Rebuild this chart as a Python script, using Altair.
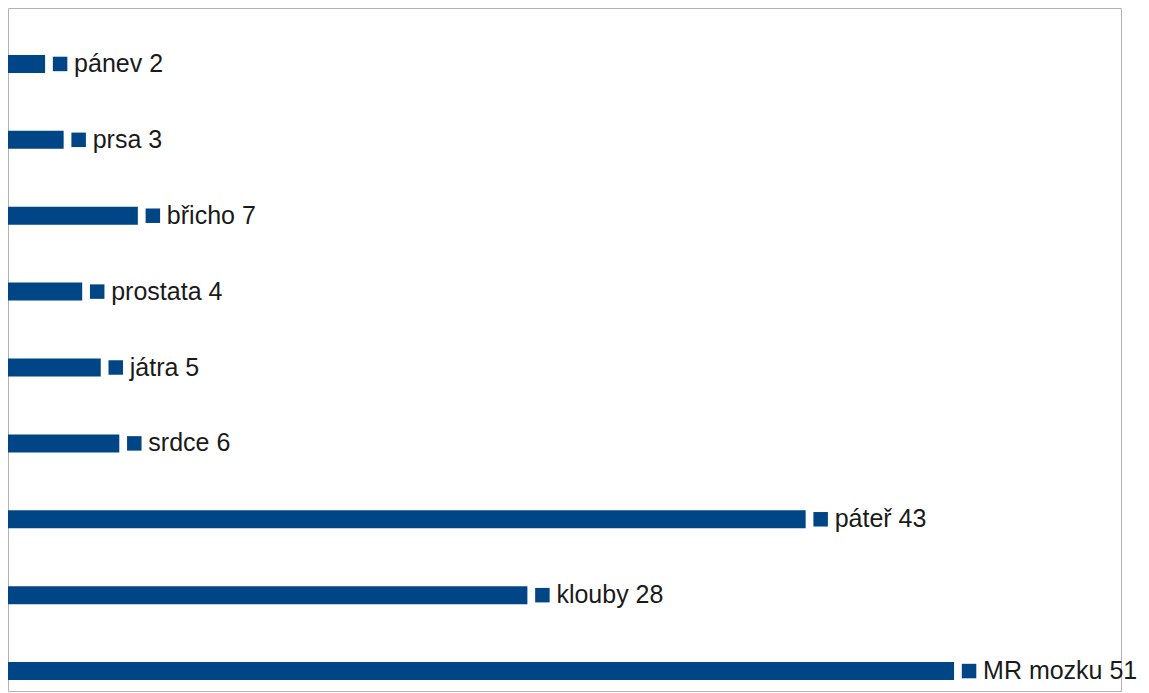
import altair as alt
import pandas as pd

categories = ["pánev", "prsa", "břicho", "prostata", "játra", "srdce", "páteř", "klouby", "MR mozku"]
values = [2, 3, 7, 4, 5, 6, 43, 28, 51]

df = pd.DataFrame({"cat": categories, "val": values})
df["label"] = df["cat"] + " " + df["val"].astype(str)

BLUE = "#004586"

x = alt.X("val:Q", scale=alt.Scale(domain=[0, 60], nice=False), axis=None)
y = alt.Y("cat:N", sort=categories, scale=alt.Scale(paddingInner=0, paddingOuter=0), axis=None)

bars = alt.Chart(df).mark_bar(size=18, color=BLUE, yOffset=18).encode(x=x, y=y)
squares = alt.Chart(df).mark_square(size=210, color=BLUE, opacity=1, xOffset=15, yOffset=18).encode(x=x, y=y)
texts = alt.Chart(df).mark_text(
    align="left", baseline="middle", dx=29, dy=18,
    font="Liberation Sans", fontSize=25, color="#1a1a1a"
).encode(x=x, y=y, text="label:N")

chart = (bars + squares + texts).properties(
    width=1113, height=683, padding={"left": 0, "top": 0, "right": 2, "bottom": 2}
).configure_view(stroke="#b3b3b3", strokeWidth=1)

chart.save("out.html", embed_options={"renderer": "svg", "actions": False})
